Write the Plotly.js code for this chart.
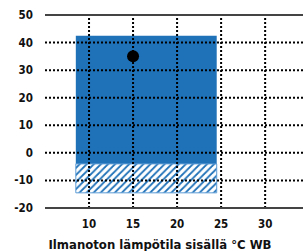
<!DOCTYPE html>
<html>
<head>
<meta charset="utf-8">
<script src="https://cdn.plot.ly/plotly-3.0.1.min.js"></script>
<style>html,body{margin:0;padding:0;overflow:hidden;background:#fff}</style>
</head>
<body>
<div id="chart" style="width:303px;height:251px"></div>
<script>
// Operating range (rectangle) in °C WB (x) vs outdoor temp (y)
var rangeX = [8.5, 24.5];          // indoor wet-bulb start / end
var solidRange = [-4, 42.5];       // solid blue band (bottom, top)
var hatchRange = [-14.5, -4];      // hatched band (bottom, top)
var pointX = [15];
var pointY = [35];
var xTicks = [10, 15, 20, 25, 30];
var yTicks = [-20, -10, 0, 10, 20, 30, 40, 50];
var xTitle = 'Ilmanoton lämpötila sisällä °C WB';

var xRange = [5, 34.3];
var yRange = [-20, 50];
var blue = '#1f71b8';
var font = {family: 'DejaVu Sans Condensed', size: 11.5, color: '#111', weight: 'bold'};

var cx = (rangeX[0] + rangeX[1]) / 2;
var w = rangeX[1] - rangeX[0];

var traces = [];
traces.push({
  type: 'bar', x: [cx], y: [solidRange[1] - solidRange[0]], base: [solidRange[0]], width: [w],
  marker: {color: blue, line: {width: 0}}, hoverinfo: 'skip', showlegend: false
});
traces.push({
  type: 'bar', x: [cx], y: [hatchRange[1] - hatchRange[0]], base: [hatchRange[0]], width: [w],
  marker: {color: '#ffffff', line: {width: 1, color: '#5b9bd5'},
    pattern: {shape: '/', fgcolor: blue, bgcolor: '#ffffff', size: 5, solidity: 0.35}},
  hoverinfo: 'skip', showlegend: false
});
// dotted grid drawn above the bars, below the point
var gridLine = {color: '#000', width: 2, dash: '2px,2px'};
xTicks.forEach(function (t) {
  traces.push({type: 'scatter', mode: 'lines', x: [t, t], y: [yRange[0], yRange[1]],
    line: gridLine, hoverinfo: 'skip', showlegend: false});
});
yTicks.slice(1, -1).forEach(function (t) {
  traces.push({type: 'scatter', mode: 'lines', x: [xRange[0], xRange[1]], y: [t, t],
    line: gridLine, hoverinfo: 'skip', showlegend: false});
});
traces.push({
  type: 'scatter', mode: 'markers', x: pointX, y: pointY,
  marker: {color: '#000', size: 12}, hoverinfo: 'skip', showlegend: false
});

var layout = {
  width: 303, height: 251,
  margin: {l: 45, r: 0, t: 15, b: 43},
  paper_bgcolor: '#fff', plot_bgcolor: '#fff',
  font: font,
  barmode: 'overlay',
  title: {text: xTitle, font: {family: font.family, size: 13, color: '#111', weight: 'bold'},
    xref: 'container', x: 0.528, xanchor: 'center', yref: 'container', y: 0.028, yanchor: 'middle'},
  xaxis: {range: xRange, tickvals: xTicks, ticktext: xTicks.map(String), showgrid: false, zeroline: false,
    showline: false, ticks: '', ticklabelstandoff: 7,
    tickfont: font, fixedrange: true},
  yaxis: {range: yRange, tickvals: yTicks, ticktext: yTicks.map(String), showgrid: false, zeroline: false,
    showline: false, ticks: '', ticklabelstandoff: 11, tickfont: font, fixedrange: true},
  shapes: [
    {type: 'line', xref: 'paper', yref: 'paper', x0: 0, x1: 1, y0: 1, y1: 1, line: {color: '#444', width: 2}, layer: 'above'},
    {type: 'line', xref: 'paper', yref: 'paper', x0: 0, x1: 1, y0: 0, y1: 0, line: {color: '#444', width: 2}, layer: 'above'}
  ],
  showlegend: false
};
Plotly.newPlot('chart', traces, layout, {displayModeBar: false, staticPlot: true});
</script>
</body>
</html>
